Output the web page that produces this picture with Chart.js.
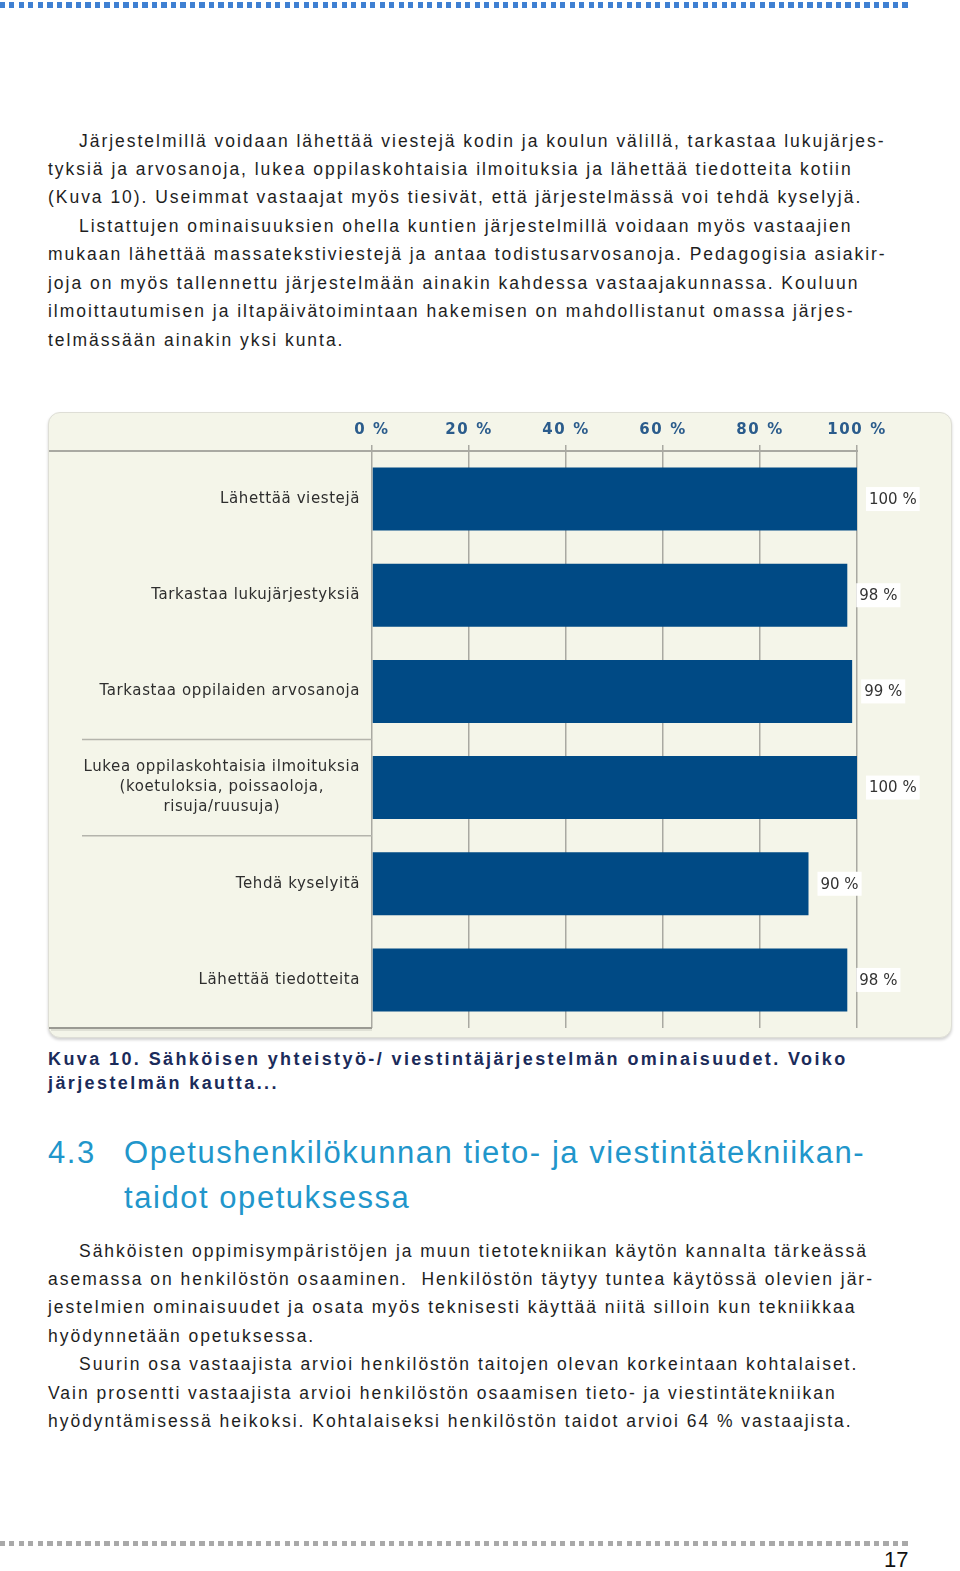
<!DOCTYPE html>
<html>
<head>
<meta charset="utf-8">
<script src="https://cdn.jsdelivr.net/npm/chart.js@4"></script>
<style>
  body { margin: 0; background: #fff; }
  #page { position: relative; width: 960px; height: 1571px; overflow: hidden; font-family: "Liberation Sans", Arial, sans-serif; color: #1e1e1e; }
  .dots-top { position: absolute; left: 0; top: 2px; width: 912px; height: 6px;
    background: repeating-linear-gradient(to right, #3f80d2 0 5px, transparent 5px 9.5px); }
  .dots-bottom { position: absolute; left: 0; top: 1541px; width: 910px; height: 5px;
    background: repeating-linear-gradient(to right, #a9a9a9 0 5px, transparent 5px 9.5px); }
  .txt { position: absolute; left: 48px; font-size: 17.5px; letter-spacing: 1.97px; line-height: 28.45px; white-space: nowrap; }
  .ind { padding-left: 31px; }
  #chartBox { position: absolute; left: 48px; top: 412px; width: 904px; height: 626px;
    background: #f4f5e9; border-radius: 12px; border: 1px solid #deded6; box-sizing: border-box;
    box-shadow: 0 2px 3px rgba(0,0,0,0.18); }
  #chartBox canvas { position: absolute; left: -1px; top: -1px; }
  .caption { position: absolute; left: 48px; top: 1047px; font-family: "Liberation Sans Narrow", "Liberation Sans", Arial, sans-serif;
    font-weight: bold; font-size: 18px; letter-spacing: 2.4px; line-height: 24px; color: #1b2b5a; white-space: nowrap; }
  .heading { position: absolute; left: 48px; top: 1130px; font-family: "Liberation Sans Narrow", "Liberation Sans", Arial, sans-serif;
    font-size: 31px; letter-spacing: 1.55px; line-height: 45px; color: #2196cb; white-space: nowrap; }
  .heading .num { display: inline-block; width: 76px; }
  .heading .l2 { padding-left: 76px; }
  .pnum { position: absolute; left: 884px; top: 1547px; font-family: "Liberation Sans Narrow", Arial, sans-serif; font-size: 22px; color: #111; }
</style>
</head>
<body>
<div id="page">
  <div class="dots-top"></div>

  <div class="txt" style="top:126.5px">
    <div class="ind">Järjestelmillä voidaan lähettää viestejä kodin ja koulun välillä, tarkastaa lukujärjes-</div>
    <div>tyksiä ja arvosanoja, lukea oppilaskohtaisia ilmoituksia ja lähettää tiedotteita kotiin</div>
    <div>(Kuva 10). Useimmat vastaajat myös tiesivät, että järjestelmässä voi tehdä kyselyjä.</div>
    <div class="ind">Listattujen ominaisuuksien ohella kuntien järjestelmillä voidaan myös vastaajien</div>
    <div>mukaan lähettää massatekstiviestejä ja antaa todistusarvosanoja. Pedagogisia asiakir-</div>
    <div>joja on myös tallennettu järjestelmään ainakin kahdessa vastaajakunnassa. Kouluun</div>
    <div>ilmoittautumisen ja iltapäivätoimintaan hakemisen on mahdollistanut omassa järjes-</div>
    <div>telmässään ainakin yksi kunta.</div>
  </div>

  <div id="chartBox"><canvas id="kuva10" width="904" height="626"></canvas></div>

  <div class="caption">Kuva 10. Sähköisen yhteistyö-/ viestintäjärjestelmän ominaisuudet. Voiko<br>järjestelmän kautta...</div>

  <div class="heading"><span class="num">4.3</span>Opetushenkilökunnan tieto- ja viestintätekniikan-<br><span class="l2">taidot opetuksessa</span></div>

  <div class="txt" style="top:1236.5px">
    <div class="ind">Sähköisten oppimisympäristöjen ja muun tietotekniikan käytön kannalta tärkeässä</div>
    <div>asemassa on henkilöstön osaaminen.&nbsp; Henkilöstön täytyy tuntea käytössä olevien jär-</div>
    <div>jestelmien ominaisuudet ja osata myös teknisesti käyttää niitä silloin kun tekniikkaa</div>
    <div>hyödynnetään opetuksessa.</div>
    <div class="ind">Suurin osa vastaajista arvioi henkilöstön taitojen olevan korkeintaan kohtalaiset.</div>
    <div>Vain prosentti vastaajista arvioi henkilöstön osaamisen tieto- ja viestintätekniikan</div>
    <div>hyödyntämisessä heikoksi. Kohtalaiseksi henkilöstön taidot arvioi 64 % vastaajista.</div>
  </div>

  <div class="dots-bottom"></div>
  <div class="pnum">17</div>
</div>

<script>
// Ominaisuudet (kategoriat) ja osuudet prosentteina
const ominaisuudet = [
  'Lähettää viestejä',
  'Tarkastaa lukujärjestyksiä',
  'Tarkastaa oppilaiden arvosanoja',
  ['Lukea oppilaskohtaisia ilmoituksia', '(koetuloksia, poissaoloja,', 'risuja/ruusuja)'],
  'Tehdä kyselyitä',
  'Lähettää tiedotteita'
];
const osuudet = [100, 98, 99, 100, 90, 98];
const akseliArvot = [0, 20, 40, 60, 80, 100];

const viivaVari = '#a9a9a2';
const palkkiVari = '#004a85';

// nimiöt, akselin jatke ja arvot piirretään itse
const omatPiirrot = {
  id: 'omatPiirrot',
  beforeDraw(chart) {
    // akselin prosenttiluvuissa on väljä kirjainväli
    chart.ctx.letterSpacing = '1.6px';
  },
  afterDraw(chart) {
    const ctx = chart.ctx;
    const area = chart.chartArea;
    const yS = chart.scales.y;
    ctx.save();

    // vaaka-akseli koko leveydeltä ja nimiöalueen alareuna
    ctx.strokeStyle = viivaVari;
    ctx.lineWidth = 2;
    ctx.beginPath();
    ctx.moveTo(1, area.top);
    ctx.lineTo(area.right + 1, area.top);
    ctx.stroke();
    ctx.strokeStyle = '#9a9a93';
    ctx.beginPath();
    ctx.moveTo(1, area.bottom);
    ctx.lineTo(area.left, area.bottom);
    ctx.stroke();
    ctx.strokeStyle = 'rgba(0,0,0,0.08)';
    ctx.beginPath();
    ctx.moveTo(3, area.bottom + 2);
    ctx.lineTo(area.left, area.bottom + 2);
    ctx.stroke();

    // kategorioiden nimiöt
    ctx.fillStyle = '#2e2e2e';
    ctx.font = '15px "DejaVu Sans", Verdana, sans-serif';
    ctx.letterSpacing = '0.6px';
    ctx.textBaseline = 'middle';
    const oikea = area.left - 12;
    ominaisuudet.forEach((nimi, i) => {
      const y = yS.getPixelForValue(i);
      if (Array.isArray(nimi)) {
        const leveys = Math.max(...nimi.map(r => ctx.measureText(r).width));
        const keski = oikea - leveys / 2;
        ctx.textAlign = 'center';
        nimi.forEach((rivi, k) => ctx.fillText(rivi, keski, y + (k - (nimi.length - 1) / 2) * 20));
        // rajaviivat pitkän nimiön ympärillä
        const puoli = (yS.getPixelForValue(1) - yS.getPixelForValue(0)) / 2;
        ctx.strokeStyle = '#b4b4ac';
        ctx.lineWidth = 1.5;
        ctx.beginPath();
        ctx.moveTo(area.left - 290, y - puoli);
        ctx.lineTo(area.left, y - puoli);
        ctx.moveTo(area.left - 290, y + puoli);
        ctx.lineTo(area.left, y + puoli);
        ctx.stroke();
      } else {
        ctx.textAlign = 'right';
        ctx.fillText(nimi, oikea, y);
      }
    });

    // arvot palkkien perään valkoisella pohjalla
    const meta = chart.getDatasetMeta(0);
    ctx.font = '15px "DejaVu Sans", Verdana, sans-serif';
    ctx.letterSpacing = '0px';
    ctx.textAlign = 'left';
    meta.data.forEach((bar, i) => {
      const teksti = osuudet[i] + ' %';
      const w = ctx.measureText(teksti).width;
      const x = bar.x + 12;
      ctx.fillStyle = '#ffffff';
      ctx.fillRect(x - 3, bar.y - 12, w + 6, 24);
      ctx.fillStyle = '#333333';
      ctx.fillText(teksti, x, bar.y + 1);
    });
    ctx.restore();
  }
};

new Chart(document.getElementById('kuva10'), {
  type: 'bar',
  data: {
    labels: ominaisuudet,
    datasets: [{
      data: osuudet,
      backgroundColor: palkkiVari,
      borderWidth: 0,
      barPercentage: 0.655,
      categoryPercentage: 1
    }]
  },
  options: {
    indexAxis: 'y',
    responsive: false,
    animation: false,
    layout: { padding: { left: 0, right: 95, top: 0, bottom: 10 } },
    plugins: { legend: { display: false }, tooltip: { enabled: false } },
    scales: {
      x: {
        position: 'top',
        min: 0,
        max: 100,
        afterBuildTicks: s => { s.ticks = akseliArvot.map(v => ({ value: v })); },
        afterFit: s => { s.height = 39; },
        ticks: {
          callback: v => v + ' %',
          color: '#2b5c8c',
          font: { family: '"DejaVu Sans", Verdana, sans-serif', size: 15, weight: 'bold' },
          padding: 6,
          maxRotation: 0
        },
        grid: { color: viivaVari, lineWidth: 1.5, tickLength: 6, drawOnChartArea: true },
        border: { display: false }
      },
      y: {
        afterFit: s => { s.width = 324; },
        ticks: { display: false },
        grid: { display: false },
        border: { display: false }
      }
    }
  },
  plugins: [omatPiirrot]
});
</script>
</body>
</html>
